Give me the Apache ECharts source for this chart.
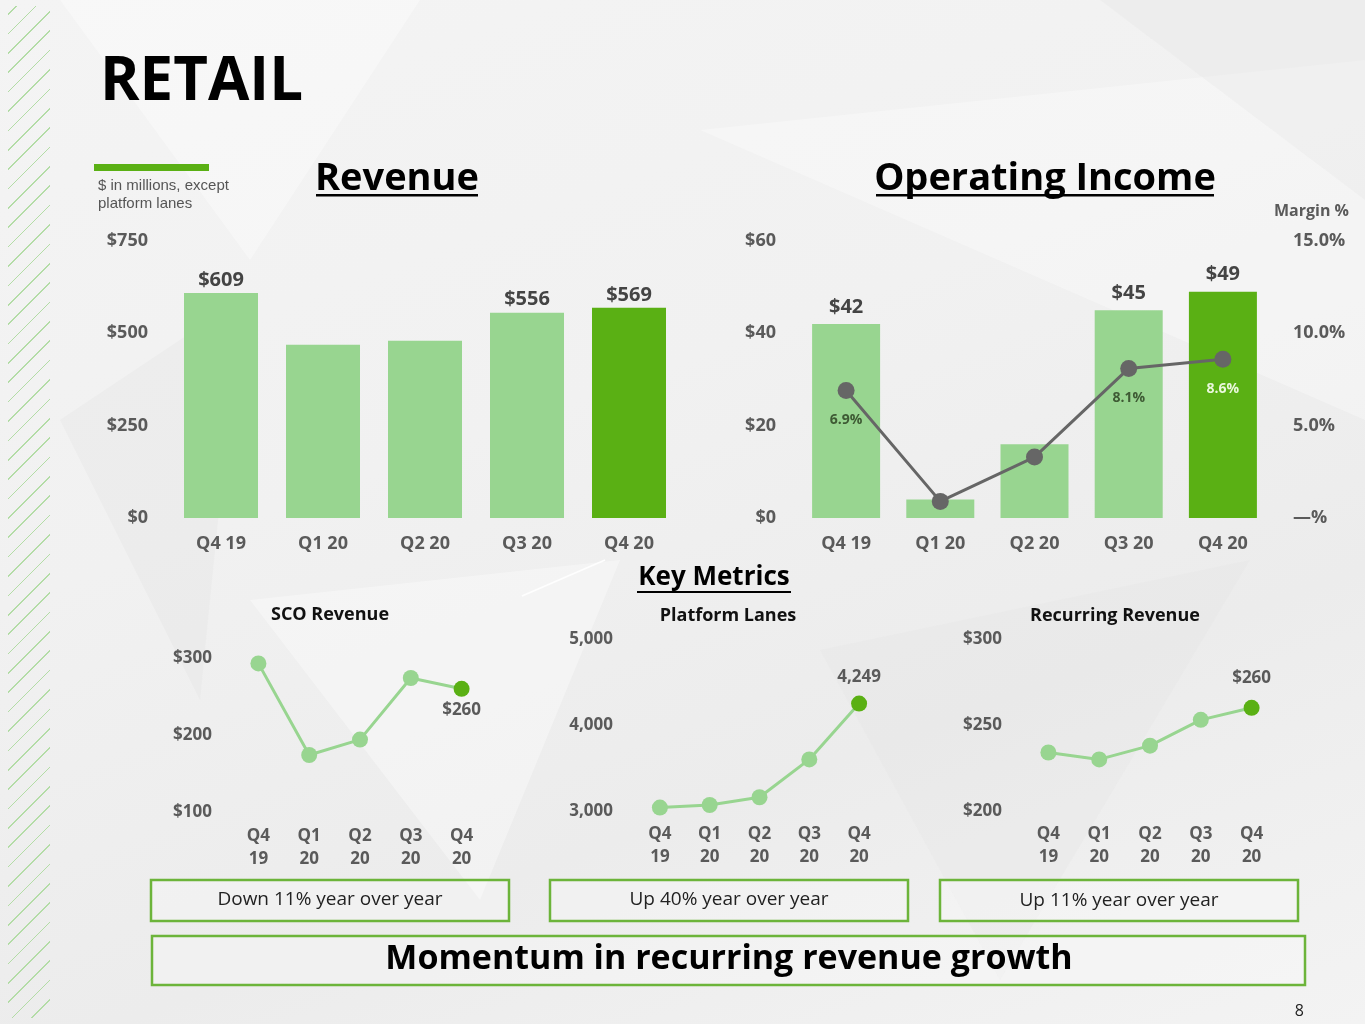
<!DOCTYPE html>
<html>
<head>
<meta charset="utf-8">
<title>Retail</title>
<script src="https://cdn.jsdelivr.net/npm/echarts@6/dist/echarts.min.js"></script>
<style>
    html, body {
        margin: 0;
        padding: 0;
        width: 1365px;
        height: 1024px;
        overflow: hidden;
        background: linear-gradient(160deg, #f4f4f4 0%, #f1f1f1 40%, #ececec 70%, #f3f3f3 100%);
    }
    #stripes {
        position: absolute;
        left: 8px;
        top: 6px;
        width: 42px;
        height: 1012px;
        background: repeating-linear-gradient(-45deg, transparent 0px, transparent 12.5px, #b3dca6 12.5px, #b3dca6 13.7px);
    }
    #main {
        position: absolute;
        left: 0;
        top: 0;
        width: 1365px;
        height: 1024px;
    }
</style>
</head>
<body>
<div id="stripes"></div>
<div id="main"></div>
<script>
(function () {

    'use strict';

    var quarters = ['Q4 19', 'Q1 20', 'Q2 20', 'Q3 20', 'Q4 20'];
    var quartersTwoLine = ['Q4\n19', 'Q1\n20', 'Q2\n20', 'Q3\n20', 'Q4\n20'];

    // $ millions
    var revenue = [609, 469, 480, 556, 569];
    var operatingIncome = [42, 4, 16, 45, 49];
    var marginPct = [6.9, 0.9, 3.3, 8.1, 8.6];

    var scoRevenue = [293, 174, 194, 274, 260];
    var platformLanes = [3040, 3070, 3160, 3600, 4249];
    var recurringRevenue = [234, 230, 238, 253, 260];

    // which points get a value label
    var revenueLabelled = [true, false, false, true, true];
    var incomeLabelled = [true, false, false, true, true];
    var marginLabelled = [true, false, false, true, true];

    var LIGHT = '#98d590';
    var DARK = '#5ab014';
    var AXIS_GREY = '#5a5a5a';
    var FONT = '"Open Sans", "Noto Sans", sans-serif';

    var chart = echarts.init(document.getElementById('main'), null, {renderer: 'canvas'});

    function barItems(values, labelled) {
        return values.map(function (v, i) {
            return {
                value: v,
                itemStyle: {color: i === values.length - 1 ? DARK : LIGHT},
                label: {show: labelled[i]}
            };
        });
    }

    function lineItems(values) {
        return values.map(function (v, i) {
            var last = i === values.length - 1;
            return {
                value: v,
                itemStyle: {color: last ? DARK : LIGHT},
                label: {show: last}
            };
        });
    }

    function catAxis(grid, data, fontSize, margin, lineHeight) {
        return {
            type: 'category',
            gridIndex: grid,
            data: data,
            axisLine: {show: false},
            axisTick: {show: false},
            axisLabel: {
                color: AXIS_GREY,
                fontFamily: FONT,
                fontWeight: 'bold',
                fontSize: fontSize,
                margin: margin,
                lineHeight: lineHeight
            }
        };
    }

    function valAxis(grid, min, max, interval, fmt, margin, fontSize, position) {
        return {
            type: 'value',
            gridIndex: grid,
            min: min,
            max: max,
            interval: interval,
            position: position || 'left',
            splitLine: {show: false},
            axisLine: {show: false},
            axisTick: {show: false},
            axisLabel: {
                color: AXIS_GREY,
                fontFamily: FONT,
                fontWeight: 'bold',
                fontSize: fontSize,
                margin: margin,
                padding: [4, 0, 0, 0],
                align: position === 'right' ? 'left' : 'right',
                formatter: fmt
            }
        };
    }

    function text(x, y, str, size, weight, color, align, family) {
        return {
            type: 'text',
            x: x,
            y: y + 3,
            style: {
                text: str,
                fontSize: size,
                fontWeight: weight,
                fontFamily: family || FONT,
                fill: color,
                align: align || 'left',
                verticalAlign: 'middle'
            }
        };
    }

    function box(x, y, w, h) {
        return {
            type: 'rect',
            shape: {x: x, y: y, width: w, height: h},
            style: {fill: 'rgba(255,255,255,0.25)', stroke: '#6cb43a', lineWidth: 2.5}
        };
    }

    function poly(points, fill) {
        return {type: 'polygon', z: -10, shape: {points: points}, style: {fill: fill}};
    }

    var dollar = function (v) { return '$' + v; };

    var option = {
        animation: false,
        grid: [
            {left: 170, top: 241, width: 510, height: 277},
            {left: 799, top: 241, width: 471, height: 277},
            {left: 233, top: 658, width: 254, height: 154},
            {left: 635, top: 639, width: 249, height: 172},
            {left: 1023, top: 639, width: 254, height: 172}
        ],
        xAxis: [
            catAxis(0, quarters, 18, 17),
            catAxis(1, quarters, 18, 17),
            catAxis(2, quartersTwoLine, 17, 13, 23),
            catAxis(3, quartersTwoLine, 17, 12, 23),
            catAxis(4, quartersTwoLine, 17, 12, 23)
        ],
        yAxis: [
            valAxis(0, 0, 750, 250, dollar, 22, 18),
            valAxis(1, 0, 60, 20, dollar, 23, 18),
            valAxis(1, 0, 15, 5, function (v) {
                return v === 0 ? '\u2014%' : v.toFixed(1) + '%';
            }, 23, 18, 'right'),
            valAxis(2, 100, 300, 100, dollar, 21, 17),
            valAxis(3, 3000, 5000, 1000, function (v) {
                return echarts.format.addCommas(v);
            }, 22, 17),
            valAxis(4, 200, 300, 50, dollar, 21, 17)
        ],
        series: [
            {
                name: 'Revenue',
                type: 'bar',
                xAxisIndex: 0,
                yAxisIndex: 0,
                barWidth: 74,
                data: barItems(revenue, revenueLabelled),
                label: {
                    position: 'top',
                    distance: 3,
                    color: '#444',
                    fontFamily: FONT,
                    fontWeight: 'bold',
                    fontSize: 20,
                    formatter: function (p) { return '$' + p.value; }
                }
            },
            {
                name: 'Operating Income',
                type: 'bar',
                xAxisIndex: 1,
                yAxisIndex: 1,
                barWidth: 68,
                data: barItems(operatingIncome, incomeLabelled),
                label: {
                    position: 'top',
                    distance: 7,
                    color: '#444',
                    fontFamily: FONT,
                    fontWeight: 'bold',
                    fontSize: 20,
                    formatter: function (p) { return '$' + p.value; }
                }
            },
            {
                name: 'Margin %',
                type: 'line',
                xAxisIndex: 1,
                yAxisIndex: 2,
                symbol: 'circle',
                symbolSize: 17,
                lineStyle: {color: '#666', width: 3},
                itemStyle: {color: '#666'},
                data: marginPct.map(function (v, i) {
                    return {
                        value: v,
                        label: {
                            show: marginLabelled[i],
                            color: i === marginPct.length - 1 ? '#eaf7dc' : '#3e5a34'
                        }
                    };
                }),
                label: {
                    position: 'bottom',
                    distance: 14,
                    fontFamily: FONT,
                    fontWeight: 'bold',
                    fontSize: 14,
                    formatter: function (p) { return p.value.toFixed(1) + '%'; }
                }
            },
            {
                name: 'SCO Revenue',
                type: 'line',
                xAxisIndex: 2,
                yAxisIndex: 3,
                symbol: 'circle',
                symbolSize: 16,
                lineStyle: {color: LIGHT, width: 3},
                data: lineItems(scoRevenue),
                label: {
                    position: 'bottom',
                    distance: 5,
                    color: AXIS_GREY,
                    fontFamily: FONT,
                    fontWeight: 'bold',
                    fontSize: 17,
                    formatter: function (p) { return '$' + p.value; }
                }
            },
            {
                name: 'Platform Lanes',
                type: 'line',
                xAxisIndex: 3,
                yAxisIndex: 4,
                symbol: 'circle',
                symbolSize: 16,
                lineStyle: {color: LIGHT, width: 3},
                data: lineItems(platformLanes),
                label: {
                    position: 'top',
                    distance: 10,
                    color: AXIS_GREY,
                    fontFamily: FONT,
                    fontWeight: 'bold',
                    fontSize: 17,
                    formatter: function (p) { return echarts.format.addCommas(p.value); }
                }
            },
            {
                name: 'Recurring Revenue',
                type: 'line',
                xAxisIndex: 4,
                yAxisIndex: 5,
                symbol: 'circle',
                symbolSize: 16,
                lineStyle: {color: LIGHT, width: 3},
                data: lineItems(recurringRevenue),
                label: {
                    position: 'top',
                    distance: 13,
                    color: AXIS_GREY,
                    fontFamily: FONT,
                    fontWeight: 'bold',
                    fontSize: 17,
                    formatter: function (p) { return '$' + p.value; }
                }
            }
        ],
        graphic: [
            // faint low-poly background
            poly([[60, 0], [420, 0], [250, 260]], 'rgba(255,255,255,0.35)'),
            poly([[700, 130], [1365, 60], [1365, 420]], 'rgba(255,255,255,0.3)'),
            poly([[250, 600], [620, 560], [480, 900]], 'rgba(255,255,255,0.35)'),
            poly([[820, 650], [1250, 560], [1000, 980]], 'rgba(230,230,230,0.35)'),
            poly([[60, 420], [240, 300], [200, 700]], 'rgba(225,225,225,0.3)'),
            poly([[1100, 0], [1365, 0], [1365, 200]], 'rgba(228,228,228,0.35)'),
            {
                type: 'line',
                shape: {x1: 522, y1: 596, x2: 605, y2: 560},
                style: {stroke: 'rgba(255,255,255,0.9)', lineWidth: 1.5}
            },

            text(100, 80, 'RETAIL', 60, 'bold', '#000'),
            {
                type: 'rect',
                shape: {x: 94, y: 164, width: 115, height: 7},
                style: {fill: DARK}
            },
            text(98, 183, '$ in millions, except', 15, 'normal', '#555', 'left', '"Liberation Sans", Arial, sans-serif'),
            text(98, 201, 'platform lanes', 15, 'normal', '#555', 'left', '"Liberation Sans", Arial, sans-serif'),

            text(397, 176, 'Revenue', 38, 'bold', '#000', 'center'),
            {type: 'rect', shape: {x: 316, y: 194, width: 162, height: 2.5}, style: {fill: '#000'}},
            text(1045, 176, 'Operating Income', 38, 'bold', '#000', 'center'),
            {type: 'rect', shape: {x: 876, y: 194, width: 338, height: 2.5}, style: {fill: '#000'}},
            text(1349, 208, 'Margin %', 16, 'bold', AXIS_GREY, 'right'),

            text(714, 575, 'Key Metrics', 26, 'bold', '#000', 'center'),
            {type: 'rect', shape: {x: 637, y: 591, width: 154, height: 2}, style: {fill: '#000'}},

            text(330, 612, 'SCO Revenue', 18, 'bold', '#111', 'center'),
            text(728, 613, 'Platform Lanes', 18, 'bold', '#111', 'center'),
            text(1115, 613, 'Recurring Revenue', 18, 'bold', '#111', 'center'),

            box(151, 880, 358, 41),
            text(330, 897, 'Down 11% year over year', 19, 'normal', '#222', 'center'),
            box(550, 880, 358, 41),
            text(729, 897, 'Up 40% year over year', 19, 'normal', '#222', 'center'),
            box(940, 880, 358, 41),
            text(1119, 898, 'Up 11% year over year', 19, 'normal', '#222', 'center'),

            box(152, 936, 1153, 49),
            text(729, 956, 'Momentum in recurring revenue growth', 34, 'bold', '#000', 'center'),

            text(1304, 1008, '8', 16, 'normal', '#222', 'right')
        ]
    };

    chart.setOption(option);

}) ();
</script>
</body>
</html>
